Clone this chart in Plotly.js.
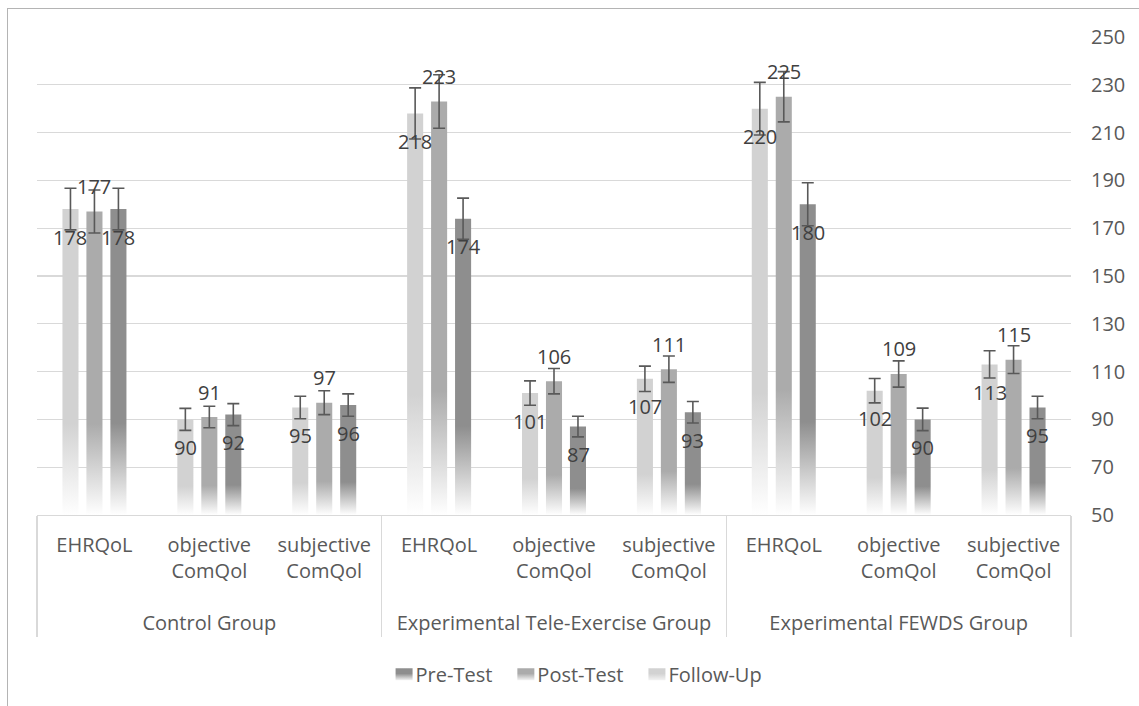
<!DOCTYPE html>
<html>
<head>
<meta charset="utf-8">
<script src="https://cdn.plot.ly/plotly-3.0.1.min.js"></script>
<style>
  html, body { margin: 0; padding: 0; background: #ffffff; overflow: hidden; }
  #frame { position: absolute; left: 7px; top: 8px; width: 1200px; height: 800px; border: 1.5px solid #b4b4b4; box-sizing: border-box; }
  #chart { position: absolute; left: 0; top: 0; width: 1139px; height: 706px; }
</style>
</head>
<body>
<div id="frame"></div>
<div id="chart"></div>
<script>
// ---- data ----
const groups = ['Control Group', 'Experimental Tele-Exercise Group', 'Experimental FEWDS Group'];
const measures = ['EHRQoL', 'objective<br>ComQol', 'subjective<br>ComQol'];
const seriesNames = ['Follow-Up', 'Post-Test', 'Pre-Test'];

const followUp = [178, 90, 95, 218, 101, 107, 220, 102, 113];
const postTest = [177, 91, 97, 223, 106, 111, 225, 109, 115];
const preTest  = [178, 92, 96, 174, 87, 93, 180, 90, 95];

const followUpErr = [8.7, 4.6, 4.7, 10.7, 5.1, 5.3, 11.0, 5.1, 5.7];
const postTestErr = [9.0, 4.5, 5.0, 11.2, 5.3, 5.5, 10.5, 5.5, 5.8];
const preTestErr  = [8.7, 4.6, 4.7, 8.6, 4.3, 4.5, 9.0, 4.7, 4.7];

const yTicks = [50, 70, 90, 110, 130, 150, 170, 190, 210, 230, 250];

// ---- styles ----
const colors = ['#d2d2d2', '#ababab', '#8e8e8e'];
const FONT = '"Open Sans", Lato, sans-serif';
const FS = 20;

const xGroup = [], xCat = [];
groups.forEach(g => measures.forEach(m => { xGroup.push('<br>' + g); xCat.push(m); }));

const values = [followUp, postTest, preTest];
const errors = [followUpErr, postTestErr, preTestErr];

const traces = values.map((v, s) => ({
  type: 'bar',
  name: seriesNames[s],
  x: [xGroup, xCat],
  y: v,
  marker: { color: colors[s], line: { width: 0 } },
  error_y: { type: 'data', array: errors[s], visible: true, color: '#595959', thickness: 1.6, width: 6 },
  hoverinfo: 'skip'
}));

// data labels: left/right series inside the top, middle series above
const annotations = [];
const nCat = xCat.length;
values.forEach((v, s) => {
  v.forEach((val, i) => {
    annotations.push({
      xref: 'paper', yref: 'y',
      x: (i + 0.5) / nCat, y: val,
      xshift: (s - 1) * 24,
      yshift: s === 1 ? 25 : -28,
      text: String(val),
      showarrow: false,
      xanchor: 'center', yanchor: 'middle',
      font: { family: FONT, size: FS, color: '#404040' }
    });
  });
});

const layout = {
  width: 1139, height: 706,
  margin: { l: 37, r: 68, t: 37, b: 191 },
  paper_bgcolor: 'rgba(0,0,0,0)',
  plot_bgcolor: 'rgba(0,0,0,0)',
  barmode: 'group',
  bargap: 0.374,
  bargroupgap: 0.33,
  showlegend: true,
  legend: {
    orientation: 'h', traceorder: 'reversed',
    x: 0.517, xanchor: 'center', y: -0.333, yanchor: 'middle',
    font: { family: FONT, size: FS, color: '#595959' }
  },
  xaxis: {
    type: 'multicategory',
    showdividers: true, dividercolor: '#d9d9d9', dividerwidth: 1.3,
    showline: true, linecolor: '#d9d9d9', linewidth: 1.3,
    showgrid: false, ticks: '',
    ticklabelstandoff: 12,
    tickfont: { family: FONT, size: FS, color: '#595959' }
  },
  yaxis: {
    side: 'right',
    range: [50, 250],
    tickvals: yTicks,
    ticktext: yTicks.map(String),
    showgrid: true, gridcolor: '#d9d9d9', gridwidth: 1.3,
    zeroline: false, showline: false, ticks: '',
    ticklabelstandoff: 19,
    tickfont: { family: FONT, size: FS, color: '#595959' }
  },
  annotations: annotations
};

const gd = document.getElementById('chart');
Plotly.newPlot(gd, traces, layout, { displayModeBar: false, staticPlot: true }).then(() => {
  const ns = 'http://www.w3.org/2000/svg';
  const svg = gd.querySelector('.main-svg');
  let defs = svg.querySelector('defs');
  if (!defs) { defs = document.createElementNS(ns, 'defs'); svg.insertBefore(defs, svg.firstChild); }
  function grad(id, stops, user) {
    const lg = document.createElementNS(ns, 'linearGradient');
    lg.setAttribute('id', id);
    if (user) {
      lg.setAttribute('gradientUnits', 'userSpaceOnUse');
      lg.setAttribute('x1', 0); lg.setAttribute('y1', user[0]);
      lg.setAttribute('x2', 0); lg.setAttribute('y2', user[1]);
    } else {
      lg.setAttribute('x1', '0'); lg.setAttribute('y1', '0');
      lg.setAttribute('x2', '0'); lg.setAttribute('y2', '1');
    }
    stops.forEach(([o, c]) => {
      const st = document.createElementNS(ns, 'stop');
      st.setAttribute('offset', o);
      st.setAttribute('stop-color', c);
      lg.appendChild(st);
    });
    defs.appendChild(lg);
  }
  const plotBottom = gd._fullLayout.yaxis._length;
  let n = 0;
  gd.querySelectorAll('.barlayer .trace').forEach(tr => {
    const idx = tr.__data__ && tr.__data__[0] && tr.__data__[0].trace ? tr.__data__[0].trace.index : 0;
    tr.querySelectorAll('.point path').forEach(p => {
      const bb = p.getBBox();
      const id = 'bg' + (n++);
      grad(id, [[0, colors[idx]], [0.7, colors[idx]], [1, '#ffffff']], [bb.y, plotBottom]);
      p.style.fill = 'url(#' + id + ')';
    });
  });
  colors.forEach((c, i) => grad('legg' + i, [[0, c], [0.45, c], [1, '#f2f2f2']]));
  gd.querySelectorAll('.legend .traces').forEach(tr => {
    const idx = tr.__data__ && tr.__data__[0] && tr.__data__[0].trace ? tr.__data__[0].trace.index : 0;
    tr.querySelectorAll('.legendpoints path').forEach(p => {
      p.setAttribute('d', 'M17,6H0V-6H17Z');
      p.style.fill = 'url(#legg' + idx + ')';
      p.style.stroke = 'none';
    });
  });
  // nudge the group labels (second level) and lengthen the dividers a little
  const EXTRA = 9;
  gd.querySelectorAll('.xtick2').forEach(g => {
    const t = g.getAttribute('transform') || '';
    g.setAttribute('transform', 'translate(0,' + EXTRA + ') ' + t);
  });
  gd.querySelectorAll('.xdivider').forEach(p => {
    const d = p.getAttribute('d') || '';
    p.setAttribute('d', d.replace(/([Vv])(-?[\d.]+)/, (m, c, v) => c + (parseFloat(v) + EXTRA)));
  });
});
</script>
</body>
</html>
